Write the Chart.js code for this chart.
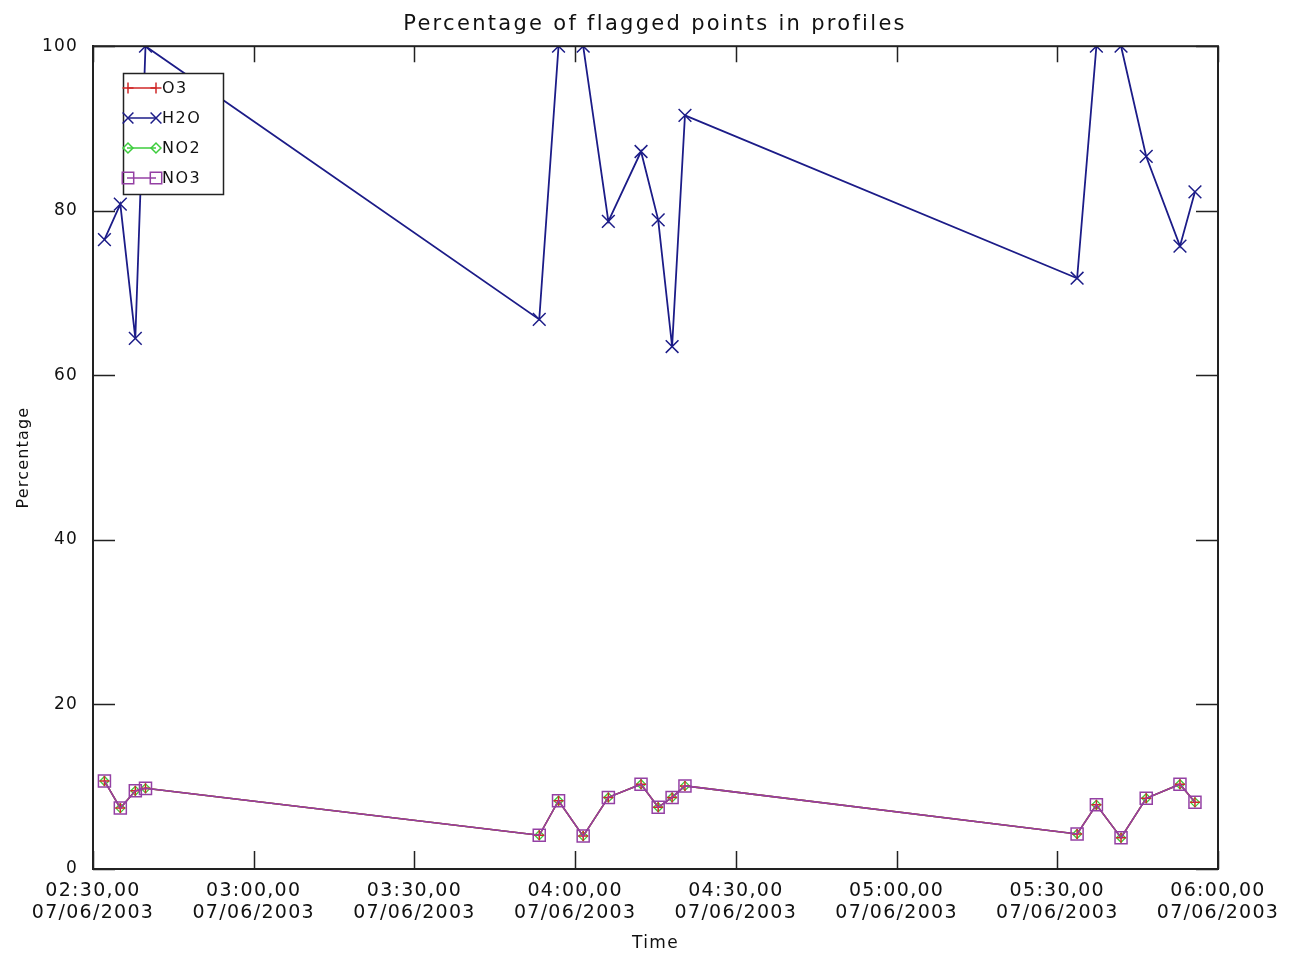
<!DOCTYPE html>
<html>
<head>
<meta charset="utf-8">
<script src="https://cdn.jsdelivr.net/npm/chart.js@4.4.1/dist/chart.umd.min.js"></script>
<style>
html,body{margin:0;padding:0;background:#fff;}
#c{display:block;}
</style>
</head>
<body>
<canvas id="c" width="1290" height="957"></canvas>
<script>
// ---- data ----
const times = ["02:32:08","02:35:06","02:37:54","02:39:48","03:53:18","03:56:54","04:01:30","04:06:12","04:12:18","04:15:30","04:18:06","04:20:30","05:33:42","05:37:18","05:41:54","05:46:36","05:52:54","05:55:42"];
const h2o = [76.5,80.8,64.5,100,66.8,100,100,78.7,87.2,78.9,63.5,91.6,71.8,100,100,86.6,75.7,82.3];
const no3 = [10.7,7.4,9.5,9.8,4.1,8.3,4.0,8.7,10.3,7.5,8.7,10.1,4.25,7.8,3.8,8.6,10.3,8.1];
const o3 = [10.7,7.4,9.5,9.8,4.1,8.3,4.0,8.7,10.3,7.5,8.7,10.1,4.25,7.8,3.8,8.6,10.3,8.1];
const no2 = [10.7,7.4,9.5,9.8,4.1,8.3,4.0,8.7,10.3,7.5,8.7,10.1,4.25,7.8,3.8,8.6,10.3,8.1];
const seriesNames = ["O3","H2O","NO2","NO3"];
const dateLabel = "07/06/2003";
const xMinTime = "02:30:00", xMaxTime = "06:00:00";
const yTicks = [0,20,40,60,80,100];

function toMin(s){const p=s.split(':').map(Number);return p[0]*60+p[1]+(p[2]||0)/60;}
function pts(vals){return times.map((t,i)=>({x:toMin(t),y:vals[i]}));}
function pad2(n){return String(n).padStart(2,'0');}

const FONT = "'DejaVu Sans', sans-serif";
const colors = {O3:'#d02828', H2O:'#1c1c88', NO2:'#3ccc3c', NO3:'#9440a4'};

const styles = {
  O3:  {pointStyle:'cross',    pointRadius:5,   borderWidth:1.5, pointBorderWidth:1.5},
  H2O: {pointStyle:'crossRot', pointRadius:9,   borderWidth:1.8, pointBorderWidth:1.5},
  NO2: {pointStyle:'rectRot',  pointRadius:4.5, borderWidth:1.5, pointBorderWidth:1.3},
  NO3: {pointStyle:'rect',     pointRadius:8.5, borderWidth:1.5, pointBorderWidth:1.5}
};
const valuesBy = {O3:o3, H2O:h2o, NO2:no2, NO3:no3};
const orderBy = {O3:1, H2O:3, NO2:2, NO3:0};

const datasets = seriesNames.map(n=>({
  label:n,
  data:pts(valuesBy[n]),
  borderColor:colors[n],
  pointBorderColor:colors[n],
  backgroundColor:'rgba(0,0,0,0)',
  pointBackgroundColor:'rgba(0,0,0,0)',
  pointStyle:styles[n].pointStyle,
  pointRadius:styles[n].pointRadius,
  pointHoverRadius:styles[n].pointRadius,
  pointBorderWidth:styles[n].pointBorderWidth,
  borderWidth:styles[n].borderWidth,
  tension:0,
  fill:false,
  order:orderBy[n]
}));

// letter spacing per layout box (wide IDL-like lettering); title centred over plot area
const spacing = {
  id:'spacing',
  beforeLayout(chart){
    chart.boxes.forEach(b=>{
      if(b._spPatched) return;
      let sp = '0px', dx = 0;
      if(b.id==='x') sp='1.3px';
      else if(b.id==='y') sp='1.2px';
      else if(b.options && b.options.text){ sp='2.3px'; dx = 46; }
      const orig = b.draw.bind(b);
      b.draw = function(area){
        const ctx = chart.ctx;
        ctx.save();
        ctx.letterSpacing = sp;
        if(dx) ctx.translate(dx,0);
        orig(area);
        ctx.restore();
      };
      b._spPatched = true;
    });
  }
};

const frame = {
  id:'frame',
  afterDatasetsDraw(chart){
    const {ctx, chartArea:a, scales:{x,y}} = chart;
    ctx.save();
    ctx.strokeStyle='#222';
    ctx.lineWidth=2;
    ctx.strokeRect(a.left, a.top, a.right-a.left, a.bottom-a.top);
    ctx.lineWidth=1.5;
    ctx.beginPath();
    x.ticks.forEach(t=>{
      const px = Math.round(x.getPixelForValue(t.value))+0.5;
      ctx.moveTo(px,a.bottom); ctx.lineTo(px,a.bottom-18);
      ctx.moveTo(px,a.top); ctx.lineTo(px,a.top+16);
    });
    y.ticks.forEach(t=>{
      const py = Math.round(y.getPixelForValue(t.value))+0.5;
      ctx.moveTo(a.left,py); ctx.lineTo(a.left+22,py);
      ctx.moveTo(a.right,py); ctx.lineTo(a.right-22,py);
    });
    ctx.stroke();
    // legend
    const lx=123, ly=73, lw=100, lh=121;
    ctx.fillStyle='#fff';
    ctx.fillRect(lx,ly,lw,lh);
    ctx.lineWidth=1.5;
    ctx.strokeStyle='#222';
    ctx.strokeRect(lx+0.5,ly+0.5,lw,lh);
    seriesNames.forEach((n,i)=>{
      const yy = ly+15+i*30;
      const st = styles[n];
      ctx.strokeStyle=colors[n];
      ctx.lineWidth=1.5;
      ctx.beginPath(); ctx.moveTo(lx+4,yy); ctx.lineTo(lx+33,yy); ctx.stroke();
      const opts={pointStyle:st.pointStyle, radius:st.pointRadius*(n==='H2O'?0.85:(n==='NO3'?0.95:1.1)), borderWidth:st.pointBorderWidth, rotation:0};
      ctx.fillStyle='rgba(0,0,0,0)';
      [lx+5, lx+33].forEach(px=>{ Chart.helpers.drawPoint(ctx, opts, px, yy); });
      ctx.fillStyle='#111';
      ctx.font="16px "+FONT;
      ctx.letterSpacing='1.5px';
      ctx.textAlign='left'; ctx.textBaseline='middle';
      ctx.fillText(n, lx+39, yy+1);
      ctx.letterSpacing='0px';
    });
    ctx.restore();
  }
};

new Chart(document.getElementById('c'), {
  type:'line',
  data:{datasets},
  options:{
    responsive:false,
    animation:false,
    events:[],
    layout:{padding:{left:0,right:72,top:0,bottom:0}},
    plugins:{
      legend:{display:false},
      tooltip:{enabled:false},
      title:{display:true, text:'Percentage of flagged points in profiles', color:'#111',
        font:{family:FONT, size:21, weight:'normal'}, padding:{top:12,bottom:9}}
    },
    scales:{
      x:{
        type:'linear',
        min:toMin(xMinTime), max:toMin(xMaxTime),
        afterFit(s){ s.height = 88; },
        afterBuildTicks(s){ s.ticks = []; for(let v=toMin(xMinTime); v<=toMin(xMaxTime)+1e-6; v+=30) s.ticks.push({value:v}); },
        grid:{display:false, drawTicks:false},
        border:{display:true, color:'#222', width:2},
        ticks:{
          color:'#111', padding:11, maxRotation:0, autoSkip:false,
          font:{family:FONT, size:19, lineHeight:1.15},
          callback(v){ const h=Math.floor(v/60), m=Math.round(v%60); return [pad2(h)+':'+pad2(m)+',00', dateLabel]; }
        },
        title:{display:true, text:'Time', color:'#111', font:{family:FONT,size:17}, padding:{top:0,bottom:3}}
      },
      y:{
        min:0, max:100,
        afterFit(s){ s.width = 93; },
        afterBuildTicks(s){ s.ticks = yTicks.map(v=>({value:v})); },
        grid:{display:false, drawTicks:false},
        border:{display:true, color:'#222', width:2},
        ticks:{color:'#111', padding:15, font:{family:FONT,size:17}},
        title:{display:true, text:'Percentage', color:'#111', font:{family:FONT,size:16}, padding:{top:14,bottom:0}}
      }
    }
  },
  plugins:[spacing, frame]
});
</script>
</body>
</html>
